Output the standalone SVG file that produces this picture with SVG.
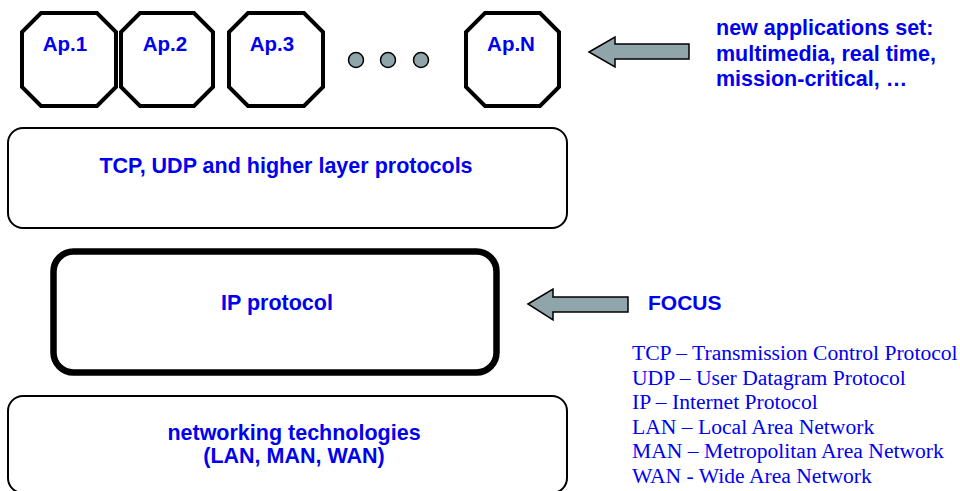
<svg xmlns="http://www.w3.org/2000/svg" width="960" height="491" viewBox="0 0 960 491">
  <style>
    .oct { fill: #ffffff; stroke: #000000; stroke-width: 4; stroke-linejoin: miter; }
    .layer { fill: #ffffff; stroke: #000000; stroke-width: 2; }
    .focus { fill: #ffffff; stroke: #000000; stroke-width: 6.5; }
    .arrow { fill: #8fa5a9; stroke: #000000; stroke-width: 1.5; stroke-linejoin: miter; }
    .dot { fill: #8fa5a9; stroke: #000000; stroke-width: 1.5; }
    .lbl { font-family: "Liberation Sans", Arial, sans-serif; font-weight: bold; font-size: 21.5px; fill: #0000f0; }
    .ap { font-size: 20.5px; }
    .mid { text-anchor: middle; }
    .legend { font-family: "Liberation Serif", "Times New Roman", serif; font-size: 21.6px; fill: #0000f0; }
  </style>

  <!-- application octagons -->
  <g id="ap1">
    <polygon class="oct" points="41,13 97,13 116,32 116,87 97,106 41,106 22,87 22,32"/>
    <text class="lbl ap mid" x="65" y="51">Ap.1</text>
  </g>
  <g id="ap2">
    <polygon class="oct" points="140,13 194,13 213,32 213,87 194,106 140,106 121,87 121,32"/>
    <text class="lbl ap mid" x="165" y="51">Ap.2</text>
  </g>
  <g id="ap3">
    <polygon class="oct" points="248,13 304,13 323,32 323,87 304,106 248,106 229,87 229,32"/>
    <text class="lbl ap mid" x="272" y="51">Ap.3</text>
  </g>
  <g id="ellipsis">
    <circle class="dot" cx="356" cy="60" r="7.5"/>
    <circle class="dot" cx="388" cy="60" r="7.5"/>
    <circle class="dot" cx="421" cy="60" r="7.5"/>
  </g>
  <g id="apN">
    <polygon class="oct" points="485,13 540,13 559,32 559,87 540,106 485,106 466,87 466,32"/>
    <text class="lbl ap mid" x="511" y="51">Ap.N</text>
  </g>

  <!-- protocol layers -->
  <g id="tcp-layer">
    <rect class="layer" x="8" y="128" width="559" height="100" rx="15" ry="15"/>
    <text class="lbl mid" x="286" y="173">TCP, UDP and higher layer protocols</text>
  </g>
  <g id="ip-layer">
    <rect class="focus" x="53.5" y="251.5" width="443" height="121" rx="20" ry="20"/>
    <text class="lbl mid" x="277" y="310">IP protocol</text>
  </g>
  <g id="net-layer">
    <rect class="layer" x="8" y="396" width="559" height="97" rx="15" ry="15"/>
    <text class="lbl mid" x="294" y="440">networking technologies</text>
    <text class="lbl mid" x="294" y="463">(LAN, MAN, WAN)</text>
  </g>

  <!-- pointer arrows -->
  <g id="connectors">
    <polygon class="arrow" points="589,52 615,37 615,44 689,44 689,59 615,59 615,67"/>
    <polygon class="arrow" points="528,304 553,289 553,297 628,297 628,312 553,312 553,320"/>
  </g>

  <!-- annotations -->
  <g id="apps-note">
    <text class="lbl" x="716" y="35">new applications set:</text>
    <text class="lbl" x="716" y="60.5">multimedia, real time,</text>
    <text class="lbl" x="716" y="85.5">mission-critical, …</text>
  </g>
  <g id="focus-note">
    <text class="lbl" x="648" y="310" style="font-size:21px">FOCUS</text>
  </g>
  <g id="glossary">
    <text class="legend" x="632" y="360">TCP – Transmission Control Protocol</text>
    <text class="legend" x="632" y="384.5">UDP – User Datagram Protocol</text>
    <text class="legend" x="632" y="409">IP – Internet Protocol</text>
    <text class="legend" x="632" y="433.5">LAN – Local Area Network</text>
    <text class="legend" x="632" y="458">MAN – Metropolitan Area Network</text>
    <text class="legend" x="632" y="483">WAN - Wide Area Network</text>
  </g>
</svg>
